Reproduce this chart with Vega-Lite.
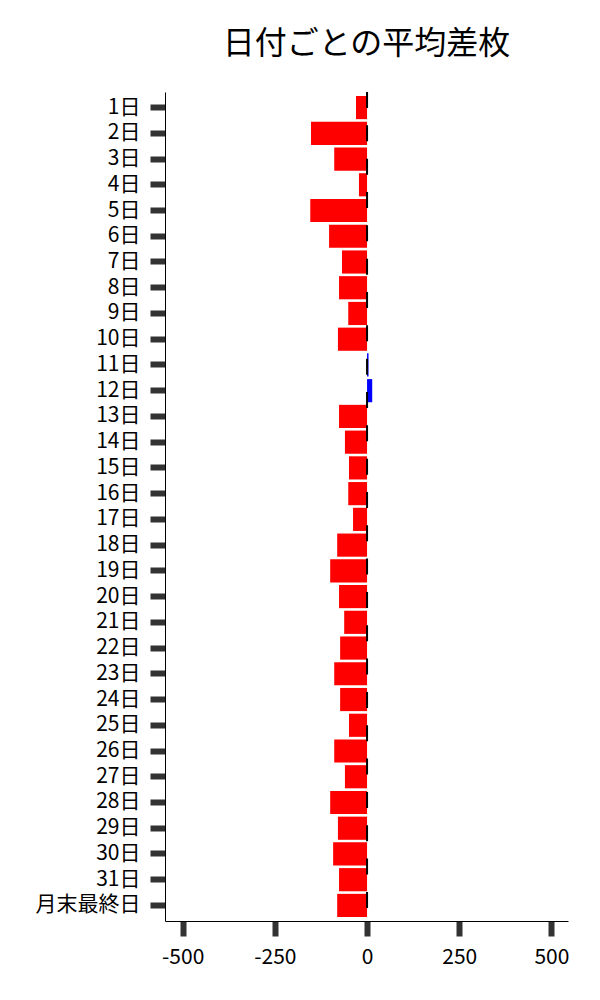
{
  "$schema": "https://vega.github.io/schema/vega-lite/v6.json",
  "width": 403,
  "height": 829,
  "autosize": "none",
  "padding": {"left": 165, "top": 92, "right": 32, "bottom": 79},
  "background": "white",
  "title": {"text": "日付ごとの平均差枚", "font": "Noto Sans CJK JP", "fontSize": 32, "fontWeight": "normal", "color": "black", "anchor": "middle", "offset": 30},
  "config": {"view": {"stroke": null}, "font": "Noto Sans CJK JP"},
  "data": {"values": [
    {"day": "1日", "value": -30},
    {"day": "2日", "value": -152},
    {"day": "3日", "value": -89},
    {"day": "4日", "value": -22},
    {"day": "5日", "value": -154},
    {"day": "6日", "value": -103},
    {"day": "7日", "value": -68},
    {"day": "8日", "value": -76},
    {"day": "9日", "value": -51},
    {"day": "10日", "value": -79},
    {"day": "11日", "value": 4},
    {"day": "12日", "value": 14},
    {"day": "13日", "value": -76},
    {"day": "14日", "value": -60},
    {"day": "15日", "value": -49},
    {"day": "16日", "value": -51},
    {"day": "17日", "value": -38},
    {"day": "18日", "value": -81},
    {"day": "19日", "value": -100},
    {"day": "20日", "value": -76},
    {"day": "21日", "value": -62},
    {"day": "22日", "value": -73},
    {"day": "23日", "value": -89},
    {"day": "24日", "value": -73},
    {"day": "25日", "value": -49},
    {"day": "26日", "value": -89},
    {"day": "27日", "value": -60},
    {"day": "28日", "value": -100},
    {"day": "29日", "value": -79},
    {"day": "30日", "value": -92},
    {"day": "31日", "value": -76},
    {"day": "月末最終日", "value": -81}
  ]},
  "layer": [
    {
      "mark": {"type": "bar"},
      "encoding": {
        "y": {"field": "day", "type": "nominal", "sort": null,
              "scale": {"paddingInner": 0.1, "paddingOuter": 0.155},
              "axis": {"title": null, "domainColor": "black", "domainWidth": 1, "tickColor": "#333333", "tickWidth": 6, "tickSize": 15, "labelFontSize": 21, "labelColor": "black", "labelPadding": 10, "labelFont": "Noto Sans CJK JP"}},
        "x": {"field": "value", "type": "quantitative",
              "scale": {"domain": [-548, 545], "nice": false, "zero": false},
              "axis": {"title": null, "values": [-500, -250, 0, 250, 500], "labelExpr": "replace(datum.label, '−', '-')", "grid": false, "domainColor": "black", "domainWidth": 1, "tickColor": "#333333", "tickWidth": 6, "tickSize": 15, "labelFontSize": 21, "labelColor": "black", "labelPadding": 10, "labelFont": "Noto Sans CJK JP"}},
        "color": {"condition": {"test": "datum.value > 0", "value": "#0000FF"}, "value": "#FF0000"}
      }
    },
    {
      "data": {"values": [{"zero": 0}]},
      "mark": {"type": "rule", "color": "black", "strokeWidth": 2, "strokeDash": [16, 17.33]},
      "encoding": {"x": {"field": "zero", "type": "quantitative"}}
    }
  ]
}
